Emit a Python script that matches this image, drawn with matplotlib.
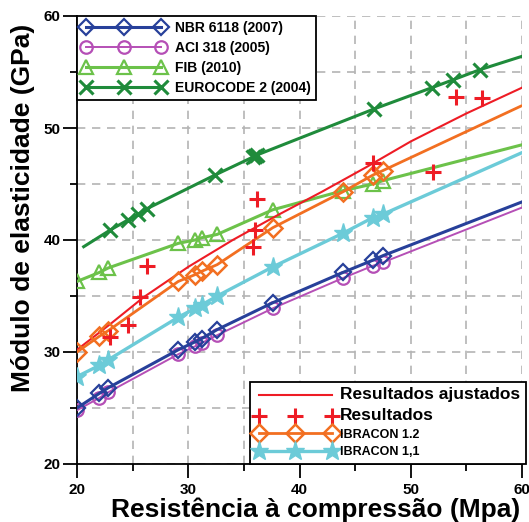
import matplotlib
matplotlib.use("Agg")
import matplotlib.pyplot as plt
from matplotlib.ticker import MultipleLocator

plt.rcParams['font.family'] = ['Liberation Sans', 'DejaVu Sans']
plt.rcParams['font.weight'] = 'bold'

# ---------------- data ----------------
fc_codes = [20.0, 22.0, 22.8, 29.1, 30.6, 31.2, 32.6, 37.6, 43.9, 46.6, 47.5, 60.0]
nbr = [25.0, 26.3, 26.8, 30.2, 30.9, 31.2, 32.0, 34.4, 37.1, 38.2, 38.6, 43.4]
aci = [24.8, 25.9, 26.4, 29.8, 30.5, 30.8, 31.5, 33.9, 36.6, 37.7, 38.0, 42.9]
fib = [36.3, 37.1, 37.5, 39.7, 40.0, 40.2, 40.5, 42.7, 44.4, 45.0, 45.3, 48.5]
ibr12 = [30.0, 31.4, 31.9, 36.3, 36.9, 37.2, 37.8, 41.1, 44.3, 45.8, 46.2, 52.0]
ibr11 = [27.8, 28.8, 29.3, 33.1, 33.9, 34.2, 35.0, 37.6, 40.6, 42.0, 42.3, 47.8]

fc_euro = [20.6, 23.0, 24.6, 25.5, 26.3, 32.4, 35.8, 36.0, 36.2, 46.7, 51.9, 53.8, 56.2, 60.0]
euro = [39.4, 40.9, 41.8, 42.3, 42.8, 45.8, 47.4, 47.5, 47.6, 51.7, 53.6, 54.3, 55.2, 56.4]

fc_fit = [20, 23, 26, 30, 34, 38, 42, 46, 50, 55, 60]
fit = [30.2, 32.5, 34.9, 37.6, 40.0, 42.2, 44.3, 46.5, 48.8, 51.3, 53.6]

fc_res = [23.0, 24.6, 25.7, 26.3, 35.8, 36.0, 36.2, 46.6, 52.0, 54.1, 56.4]
res = [31.3, 32.4, 34.9, 37.7, 39.4, 40.9, 43.7, 46.9, 46.1, 52.8, 52.7]

labels_top = ['NBR 6118 (2007)', 'ACI 318 (2005)', 'FIB (2010)', 'EUROCODE 2 (2004)']
labels_bot = ['Resultados ajustados', 'Resultados', 'IBRACON 1.2', 'IBRACON 1,1']
x_ticks = [20, 30, 40, 50, 60]
y_ticks = [20, 30, 40, 50, 60]

# ---------------- figure ----------------
fig = plt.figure(figsize=(5.29, 5.22), dpi=100)
ax = fig.add_axes([77/529, 1-464/522, 445/529, 448/522])

mk_codes = list(range(0, len(fc_codes) - 1))
mk_euro = list(range(1, len(fc_euro) - 1))

c_nbr = '#27409a'
c_aci = '#b54fb6'
c_fib = '#6cc24a'
c_euro = '#1f8b3b'
c_red = '#ee1c25'
c_or = '#f26f21'
c_cy = '#6ccbd8'

h_nbr, = ax.plot(fc_codes, nbr, color=c_nbr, lw=2.2, marker='D', ms=8, mfc='none',
                 mew=1.6, markevery=mk_codes, zorder=4)
h_aci, = ax.plot(fc_codes, aci, color=c_aci, lw=1.4, marker='o', ms=9, mfc='none',
                 mew=1.6, markevery=mk_codes, zorder=3)
h_fib, = ax.plot(fc_codes, fib, color=c_fib, lw=2.2, marker='^', ms=9.5, mfc='none',
                 mew=1.6, markevery=mk_codes, zorder=3)
h_euro, = ax.plot(fc_euro, euro, color=c_euro, lw=2.2, marker='x', ms=10.5, mew=2.2,
                  markevery=mk_euro, zorder=3)
h_fit, = ax.plot(fc_fit, fit, color=c_red, lw=1.5, zorder=3)
h_res, = ax.plot(fc_res, res, ls='none', color=c_red, marker='+', ms=12, mew=2.2, zorder=5)
h_i12, = ax.plot(fc_codes, ibr12, color=c_or, lw=2.0, marker='D', ms=9, mfc='none',
                 mew=1.8, markevery=mk_codes, zorder=4)
h_i11, = ax.plot(fc_codes, ibr11, color=c_cy, lw=2.4, marker='*', ms=14,
                 markevery=mk_codes, zorder=4)

ax.set_xlim(20, 60)
ax.set_ylim(20, 60)
ax.set_xticks(x_ticks)
ax.set_yticks(y_ticks)
ax.xaxis.set_minor_locator(MultipleLocator(5))
ax.yaxis.set_minor_locator(MultipleLocator(5))
ax.grid(True, which='both', color='#b4b4b4', ls=(0, (5, 4)), lw=1.2)
ax.set_axisbelow(True)
for s in ['top', 'right']:
    ax.spines[s].set_visible(False)
for s in ['left', 'bottom']:
    ax.spines[s].set_linewidth(1.3)
ax.tick_params(which='major', direction='out', length=10, width=1.3, labelsize=11, pad=2)
ax.tick_params(axis='x', which='major', pad=4)
ax.tick_params(which='minor', direction='out', length=5, width=1.3)
for t in ax.get_xticklabels() + ax.get_yticklabels():
    t.set_fontweight('bold')

ax.set_xlabel('Resistência à compressão (Mpa)', fontsize=19, fontweight='bold')
ax.xaxis.set_label_coords(0.537, -0.074)
ax.set_ylabel('Módulo de elasticidade (GPa)', fontsize=19, fontweight='bold')
ax.yaxis.set_label_coords(-0.095, 0.571)

leg1 = ax.legend([h_nbr, h_aci, h_fib, h_euro], labels_top, loc='upper left',
                 bbox_to_anchor=(0.0, 1.0), borderaxespad=0, numpoints=3,
                 prop={'size': 10, 'weight': 'bold'}, handlelength=6.0,
                 handletextpad=0.7, labelspacing=0.42, fancybox=False,
                 edgecolor='black', framealpha=1, borderpad=0.38)
leg1.get_frame().set_linewidth(1.3)
ax.add_artist(leg1)

leg2 = ax.legend([h_fit, h_res, h_i12, h_i11], labels_bot, loc='lower right',
                 bbox_to_anchor=(1.009, 0.0), borderaxespad=0, numpoints=3,
                 prop={'size': 9, 'weight': 'bold'}, handlelength=6.4,
                 handletextpad=0.4, labelspacing=0.45, fancybox=False,
                 edgecolor='black', framealpha=1, borderpad=0.45)
leg2.get_frame().set_linewidth(1.3)
leg2.texts[0].set_fontsize(12.5)
leg2.texts[1].set_fontsize(12.5)

fig.savefig('out.png', dpi=100)
